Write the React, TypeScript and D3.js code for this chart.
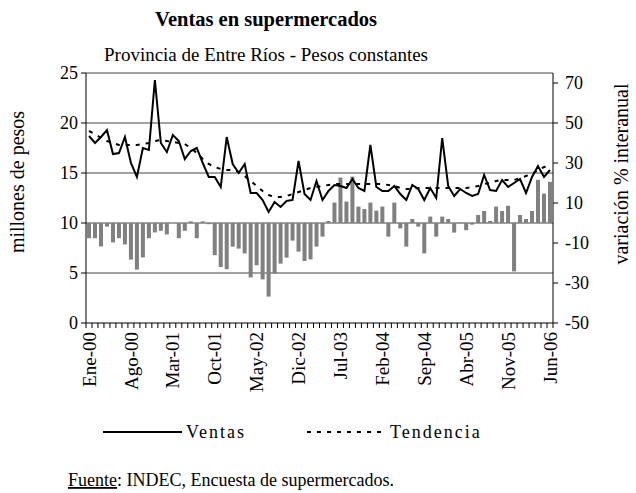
import React from 'react';
import * as d3 from 'd3';

const MONTHS = ['Ene', 'Feb', 'Mar', 'Abr', 'May', 'Jun', 'Jul', 'Ago', 'Sep', 'Oct', 'Nov', 'Dic'];
const YEARS = ['00', '01', '02', '03', '04', '05', '06'];
const categories: string[] = YEARS.flatMap((y) => MONTHS.map((m) => `${m}-${y}`)).slice(0, 78);

const tickLabels = ['Ene-00', 'Ago-00', 'Mar-01', 'Oct-01', 'May-02', 'Dic-02', 'Jul-03', 'Feb-04', 'Sep-04', 'Abr-05', 'Nov-05', 'Jun-06'];

// millones de pesos
const ventas = [
  18.7, 18.0, 18.6, 19.3, 16.9, 17.0, 18.6, 16.0, 14.6, 17.5, 17.3, 24.3,
  18.0, 17.1, 18.8, 18.2, 16.4, 17.2, 17.5, 16.0, 14.6, 14.6, 13.6, 18.6,
  15.9, 15.0, 15.9, 13.0, 13.0, 12.3, 11.1, 12.1, 11.6, 12.2, 12.3, 16.2,
  12.9, 12.3, 14.2, 12.3, 13.2, 13.8, 13.7, 13.5, 14.4, 13.5, 13.2, 17.8,
  13.6, 13.2, 13.2, 13.7, 12.9, 12.3, 13.8, 13.4, 12.3, 13.5, 12.5, 18.5,
  13.7, 12.7, 13.4, 13.0, 12.7, 12.9, 14.8, 13.3, 13.2, 14.3, 13.6, 14.0,
  14.4, 13.0, 14.6, 15.7, 14.6, 15.3,
];

const tendencia = [
  19.2, 18.9, 18.5, 18.2, 18.0, 17.8, 17.8, 17.8, 17.8, 17.9, 18.0, 18.2,
  18.3, 18.2, 18.1, 18.0, 17.9, 17.5, 17.0, 16.4, 15.9, 15.6, 15.4, 15.3,
  15.3, 15.1, 14.7, 14.2, 13.7, 13.2, 12.8, 12.6, 12.6, 12.7, 12.9, 13.1,
  13.3, 13.5, 13.6, 13.7, 13.8, 13.9, 13.9, 13.9, 13.9, 13.9, 13.9, 13.9,
  13.9, 13.9, 13.8, 13.7, 13.5, 13.4, 13.4, 13.5, 13.5, 13.5, 13.5, 13.5,
  13.5, 13.5, 13.5, 13.5, 13.6, 13.7, 13.9, 14.0, 14.2, 14.3, 14.3, 14.3,
  14.5, 14.7, 14.9, 15.3, 15.6, 15.7,
];

// variación % interanual
const variacion = [
  -7.6, -7.6, -11.7, -1.8, -9.7, -7.6, -10.7, -18.3, -23.3, -17.2, -7.6, -4.7,
  -3.9, -5.7, 0.0, -7.6, -3.9, 0.8, -7.6, 0.8, -0.6, -16.1, -22.0, -23.1,
  -11.8, -12.8, -15.2, -27.2, -21.1, -28.2, -36.8, -25.2, -20.3, -17.3, -8.8, -14.3,
  -19.0, -18.2, -11.8, -6.8, 1.0, 10.2, 22.7, 10.7, 23.2, 8.2, 7.0, 10.2,
  6.2, 8.2, -6.8, 10.2, -2.7, -11.8, 2.0, -1.8, -15.2, 3.2, -6.8, 3.2,
  2.0, -4.8, 0.2, -3.6, -0.8, 4.0, 6.0, 1.0, 8.2, 6.0, 8.6, -24.2,
  4.0, 2.0, 6.0, 21.6, 14.7, 20.6,
];

const leftTicks = [0, 5, 10, 15, 20, 25];
const rightTicks = [-50, -30, -10, 10, 30, 50, 70];

const FONT = '"Liberation Serif", "Times New Roman", serif';

export default function App() {
  const W = 636;
  const H = 493;
  const left = 86;
  const right = 553;
  const top = 73;
  const bottom = 323;

  const x = d3.scaleBand<string>().domain(categories).range([left, right]).paddingInner(0.33).paddingOuter(0.17);
  const cx = (c: string) => (x(c) as number) + x.bandwidth() / 2;
  const y = d3.scaleLinear().domain([0, 25]).range([bottom, top]);
  const y2 = d3.scaleLinear().domain([-50, 75]).range([bottom, top]);

  const line = d3
    .line<number>()
    .x((_, i) => cx(categories[i]))
    .y((d) => y(d));

  const boundaries = d3.range(categories.length + 1).map((i) => left + i * ((right - left) / categories.length));

  return (
    <svg width={W} height={H} style={{ position: 'absolute', left: 0, top: 0, background: '#fff' }} fontFamily={FONT}>
      <rect x={0} y={0} width={W} height={H} fill="#fff" />
      <text x={266} y={26} textAnchor="middle" fontSize={20.5} fontWeight="bold">Ventas en supermercados</text>
      <text x={266} y={61} textAnchor="middle" fontSize={19}>Provincia de Entre Ríos - Pesos constantes</text>

      {/* gridlines */}
      {leftTicks.filter((t) => t > 0).map((t) => (
        <line key={t} x1={left} x2={right} y1={y(t)} y2={y(t)} stroke="#444" strokeWidth={1} />
      ))}

      {/* bars */}
      {variacion.map((v, i) => (
        <rect
          key={i}
          x={x(categories[i])}
          width={x.bandwidth()}
          y={Math.min(y2(v), y2(0))}
          height={Math.abs(y2(v) - y2(0))}
          fill="#808080"
        />
      ))}

      {/* lines */}
      <path d={line(tendencia) || ''} fill="none" stroke="#000" strokeWidth={2} strokeDasharray="4,6" />
      <path d={line(ventas) || ''} fill="none" stroke="#000" strokeWidth={2} strokeLinejoin="miter" />

      {/* axes */}
      <line x1={left} x2={left} y1={top} y2={bottom} stroke="#000" />
      <line x1={right} x2={right} y1={top} y2={bottom} stroke="#000" />
      <line x1={left} x2={right} y1={bottom} y2={bottom} stroke="#000" />

      {leftTicks.map((t) => (
        <g key={t}>
          <line x1={left - 5} x2={left} y1={y(t)} y2={y(t)} stroke="#000" />
          <text x={78} y={y(t)} dy="0.35em" textAnchor="end" fontSize={18}>{t}</text>
        </g>
      ))}
      {rightTicks.map((t) => (
        <g key={t}>
          <line x1={right} x2={right + 5} y1={y2(t)} y2={y2(t)} stroke="#000" />
          <text x={565} y={y2(t)} dy="0.35em" textAnchor="start" fontSize={18}>{t}</text>
        </g>
      ))}

      {boundaries.map((bx, i) => (
        <line key={i} x1={bx} x2={bx} y1={bottom} y2={bottom + 5} stroke="#000" />
      ))}
      {tickLabels.map((l) => (
        <text
          key={l}
          transform={`translate(${cx(l)},${bottom + 9}) rotate(-90)`}
          dy="0.35em"
          textAnchor="end"
          fontSize={19}
        >
          {l}
        </text>
      ))}

      <text transform={`translate(24,182) rotate(-90)`} textAnchor="middle" fontSize={20}>millones de pesos</text>
      <text transform={`translate(628,174) rotate(-90)`} textAnchor="middle" fontSize={20}>variación % interanual</text>

      {/* legend */}
      <line x1={103} x2={182} y1={432} y2={432} stroke="#000" strokeWidth={2} />
      <text x={186} y={438} fontSize={18} letterSpacing={2}>Ventas</text>
      <line x1={307} x2={382} y1={432} y2={432} stroke="#000" strokeWidth={2} strokeDasharray="4,6" />
      <text x={390} y={438} fontSize={18} letterSpacing={2}>Tendencia</text>

      <text x={68} y={486} fontSize={18}>
        <tspan textDecoration="underline">Fuente</tspan>: INDEC, Encuesta de supermercados.
      </text>
    </svg>
  );
}
